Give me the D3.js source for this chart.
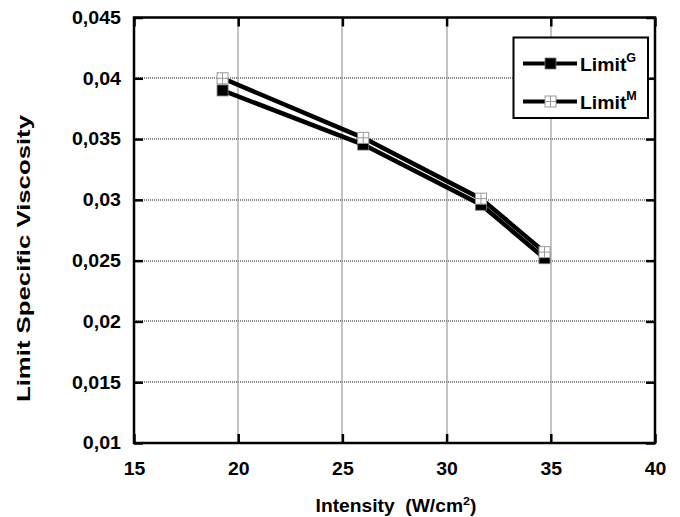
<!DOCTYPE html>
<html>
<head>
<meta charset="utf-8">
<script src="https://cdn.jsdelivr.net/npm/d3@7"></script>
<style>
  html, body { margin: 0; padding: 0; background: #fff; }
  svg { display: block; font-family: "Liberation Sans", Arial, sans-serif; font-weight: bold; }
</style>
</head>
<body>
<svg id="chart" width="680" height="517"></svg>
<script>
// ---- data ----
const seriesNames = ["G", "M"];
const intensityG = [19.25, 26.0, 31.65, 34.7];
const viscosityG = [0.0390, 0.03455, 0.0296, 0.0252];
const intensityM = [19.25, 26.0, 31.65, 34.7];
const viscosityM = [0.0400, 0.0351, 0.0301, 0.0257];
const xTicks = [15, 20, 25, 30, 35, 40];
const yTicks = [0.01, 0.015, 0.02, 0.025, 0.03, 0.035, 0.04, 0.045];
const yTickLabels = ["0,01", "0,015", "0,02", "0,025", "0,03", "0,035", "0,04", "0,045"];

const svg = d3.select("#chart");
const L = 134, R = 655, T = 17.5, B = 443;
const x = d3.scaleLinear().domain([15, 40]).range([L, R]);
const y = d3.scaleLinear().domain([0.01, 0.045]).range([B, T]);

// horizontally stretch a plain text element
function stretch(sel, f) {
  sel.each(function () {
    const w = this.getComputedTextLength();
    d3.select(this).attr("textLength", w * f).attr("lengthAdjust", "spacingAndGlyphs");
  });
}

// grid
const grid = svg.append("g");
grid.selectAll("line.gx").data(xTicks.slice(1, -1)).join("line")
  .attr("x1", d => Math.round(x(d))).attr("x2", d => Math.round(x(d))).attr("y1", T).attr("y2", B)
  .attr("stroke", "#888").attr("stroke-width", 2).attr("stroke-dasharray", "1,1");
grid.selectAll("line.gy").data(yTicks.slice(1, -1)).join("line")
  .attr("y1", d => Math.round(y(d))).attr("y2", d => Math.round(y(d))).attr("x1", L).attr("x2", R)
  .attr("stroke", "#888").attr("stroke-width", 2).attr("stroke-dasharray", "1,1");

// axes with inner ticks
const tk = 9;
const axB = svg.append("g").attr("transform", `translate(0,${B})`)
  .call(d3.axisBottom(x).tickValues(xTicks).tickSize(-tk).tickPadding(19).tickFormat(d3.format("d")));
const axT = svg.append("g").attr("transform", `translate(0,${T})`)
  .call(d3.axisTop(x).tickValues(xTicks).tickSize(-tk).tickFormat(""));
const axL = svg.append("g").attr("transform", `translate(${L},0)`)
  .call(d3.axisLeft(y).tickValues(yTicks).tickSize(-tk).tickPadding(13).tickFormat((d, i) => yTickLabels[i]));
const axR = svg.append("g").attr("transform", `translate(${R},0)`)
  .call(d3.axisRight(y).tickValues(yTicks).tickSize(-tk).tickFormat(""));
[axB, axT, axL, axR].forEach(a => {
  a.select(".domain").remove();
  a.selectAll(".tick line").attr("stroke", "#000").attr("stroke-width", 2.5);
  a.selectAll("text").attr("font-size", 18.5).attr("font-weight", "bold")
    .attr("font-family", "'Liberation Sans', Arial, sans-serif").attr("fill", "#000");
});
axB.selectAll("text").attr("dy", "0.71em");
stretch(axB.selectAll("text"), 1.05);
stretch(axL.selectAll("text"), 1.06);

// frame
svg.append("rect").attr("x", L).attr("y", T).attr("width", R - L).attr("height", B - T)
  .attr("fill", "none").attr("stroke", "#000").attr("stroke-width", 2.5);

// series lines
const dataG = intensityG.map((v, i) => [v, viscosityG[i]]);
const dataM = intensityM.map((v, i) => [v, viscosityM[i]]);
const line = d3.line().x(d => x(d[0])).y(d => y(d[1]));
svg.append("path").datum(dataG).attr("d", line).attr("fill", "none")
  .attr("stroke", "#000").attr("stroke-width", 4.5);
svg.append("path").datum(dataM).attr("d", line).attr("fill", "none")
  .attr("stroke", "#000").attr("stroke-width", 4.5);

const S = 11;
function markerG(g, cx, cy) {
  g.append("rect").attr("x", cx - S / 2).attr("y", cy - S / 2).attr("width", S).attr("height", S)
    .attr("fill", "#000").attr("stroke", "#777").attr("stroke-width", 0.8);
}
function markerM(g, cx, cy) {
  g.append("rect").attr("x", cx - S / 2).attr("y", cy - S / 2).attr("width", S).attr("height", S)
    .attr("fill", "#fff").attr("stroke", "#999").attr("stroke-width", 1);
  g.append("line").attr("x1", cx).attr("x2", cx).attr("y1", cy - S / 2).attr("y2", cy + S / 2)
    .attr("stroke", "#999").attr("stroke-width", 1);
  g.append("line").attr("y1", cy).attr("y2", cy).attr("x1", cx - S / 2).attr("x2", cx + S / 2)
    .attr("stroke", "#999").attr("stroke-width", 1);
}
const mk = svg.append("g");
dataG.forEach(d => markerG(mk, x(d[0]), y(d[1])));
dataM.forEach(d => markerM(mk, x(d[0]), y(d[1])));

// legend
const lg = svg.append("g");
lg.append("rect").attr("x", 513.5).attr("y", 37.5).attr("width", 134.5).attr("height", 80.5)
  .attr("fill", "#fff").attr("stroke", "#000").attr("stroke-width", 2);
const rows = [63.5, 101.5];
seriesNames.forEach((nm, i) => {
  const cy = rows[i];
  lg.append("line").attr("x1", 523).attr("x2", 577).attr("y1", cy).attr("y2", cy)
    .attr("stroke", "#000").attr("stroke-width", 4);
  if (nm === "G") markerG(lg, 550.5, cy); else markerM(lg, 550.5, cy);
  const t = lg.append("text").attr("transform", `translate(580,${cy + 7}) scale(1.05,1)`)
    .attr("font-size", 18.5).attr("fill", "#000");
  t.append("tspan").text("Limit");
  t.append("tspan").attr("dy", -8.5).attr("font-size", 12).text(nm);
});

// axis titles
const xt = svg.append("text").attr("transform", "translate(396,512) scale(1.1,1)").attr("text-anchor", "middle")
  .attr("font-size", 17.5).attr("fill", "#000").attr("xml:space", "preserve");
xt.append("tspan").text("Intensity  (W/cm");
xt.append("tspan").attr("dy", -7.5).attr("font-size", 11.5).text("2");
xt.append("tspan").attr("dy", 7.5).text(")");
const yt = svg.append("text").attr("transform", "translate(30,258.5) rotate(-90)").attr("text-anchor", "middle")
  .attr("font-size", 18).attr("fill", "#000").text("Limit Specific Viscosity");
yt.attr("textLength", 287).attr("lengthAdjust", "spacingAndGlyphs");
</script>
</body>
</html>
